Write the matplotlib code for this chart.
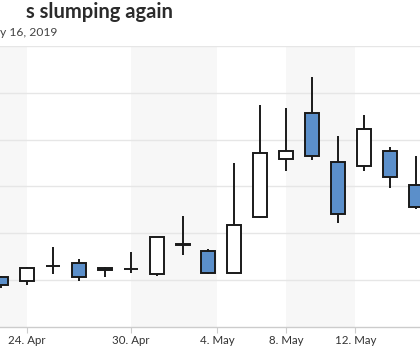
import matplotlib
matplotlib.use("Agg")
import matplotlib.pyplot as plt
import numpy as np
import pandas as pd

plt.rcParams['font.family'] = ['Lato', 'DejaVu Sans']

# daily candles, trading days only
dates = pd.bdate_range('2019-04-23', '2019-05-15')
opens = [110.72, 109.93, 112.96, 113.77, 112.53, 112.32, 111.36, 117.49, 116.32,
         111.51, 123.44, 135.80, 145.66, 135.16, 134.37, 137.57, 130.32]
highs = [110.93, 112.78, 117.05, 114.49, 112.91, 116.11, 119.18, 123.65, 116.62,
         135.07, 147.30, 146.79, 153.33, 140.83, 145.24, 138.48, 136.50]
lows = [108.37, 109.01, 111.36, 109.87, 110.65, 111.63, 110.99, 115.30, 111.29,
        111.46, 123.23, 133.30, 135.65, 122.29, 133.37, 129.75, 125.21]
closes = [109.01, 112.57, 113.10, 110.65, 112.21, 112.47, 119.18, 117.64, 111.51,
          121.80, 137.20, 137.63, 136.44, 124.08, 142.19, 132.09, 125.57]

tick_dates = pd.to_datetime(['2019-04-24', '2019-04-30', '2019-05-04',
                             '2019-05-08', '2019-05-12'])
tick_labels = ['24. Apr', '30. Apr', '4. May', '8. May', '12. May']
y_grid = [100, 110, 120, 130, 140, 150, 160]

UP = 'white'
DOWN = '#5b8fca'
EDGE = '#1a1a1a'


def ordinal_pos(d):
    # weekends squeezed out, calendar dates in between interpolated
    return np.interp(d.value, dates.asi8, np.arange(len(dates)))


fig = plt.figure(figsize=(4.2, 3.5), dpi=100)
ax = fig.add_axes([0, 0.0649, 1, 0.8046])

x = np.arange(len(dates))
xmin, xmax = -1 / 25.93, 419 / 25.93
ax.set_xlim(xmin, xmax)
ax.set_ylim(y_grid[0], y_grid[-1])

ticks = [ordinal_pos(d) for d in tick_dates]

# alternating bands between the date ticks
edges = [xmin] + ticks + [xmax]
for i in range(len(edges) - 1):
    if i % 2 == 0:
        ax.axvspan(edges[i], edges[i + 1], color='#f7f7f7', lw=0, zorder=0)

for v in y_grid[1:]:
    ax.axhline(v, color='#e6e6e6', lw=1, zorder=1)

o = np.array(opens)
c = np.array(closes)
ax.vlines(x, lows, highs, color=EDGE, lw=1.4, zorder=2)
colors = [UP if cc >= oo else DOWN for oo, cc in zip(o, c)]
ax.bar(x, np.maximum(np.abs(c - o), 0.05), bottom=np.minimum(o, c), width=0.54,
       color=colors, edgecolor=EDGE, linewidth=1.4, zorder=3)

for s in ['top', 'left', 'right']:
    ax.spines[s].set_visible(False)
ax.spines['bottom'].set_color('#cccccc')
ax.spines['bottom'].set_linewidth(1)
ax.set_yticks([])
ax.set_xticks(ticks)
ax.set_xticklabels(tick_labels, fontsize=8.3, color='#333333')
ax.tick_params(axis='x', length=4, color='#cccccc', pad=1.5)

fig.text(173 / 420, 1 - 18 / 350, 's slumping again', ha='right', va='baseline',
         fontsize=14.5, fontweight='bold', color='#2b2b2b')
fig.text(0.5 / 420, 1 - 36 / 350, 'y 16, 2019', ha='left', va='baseline',
         fontsize=8.7, color='#444444')

fig.savefig('out.png', dpi=100)
